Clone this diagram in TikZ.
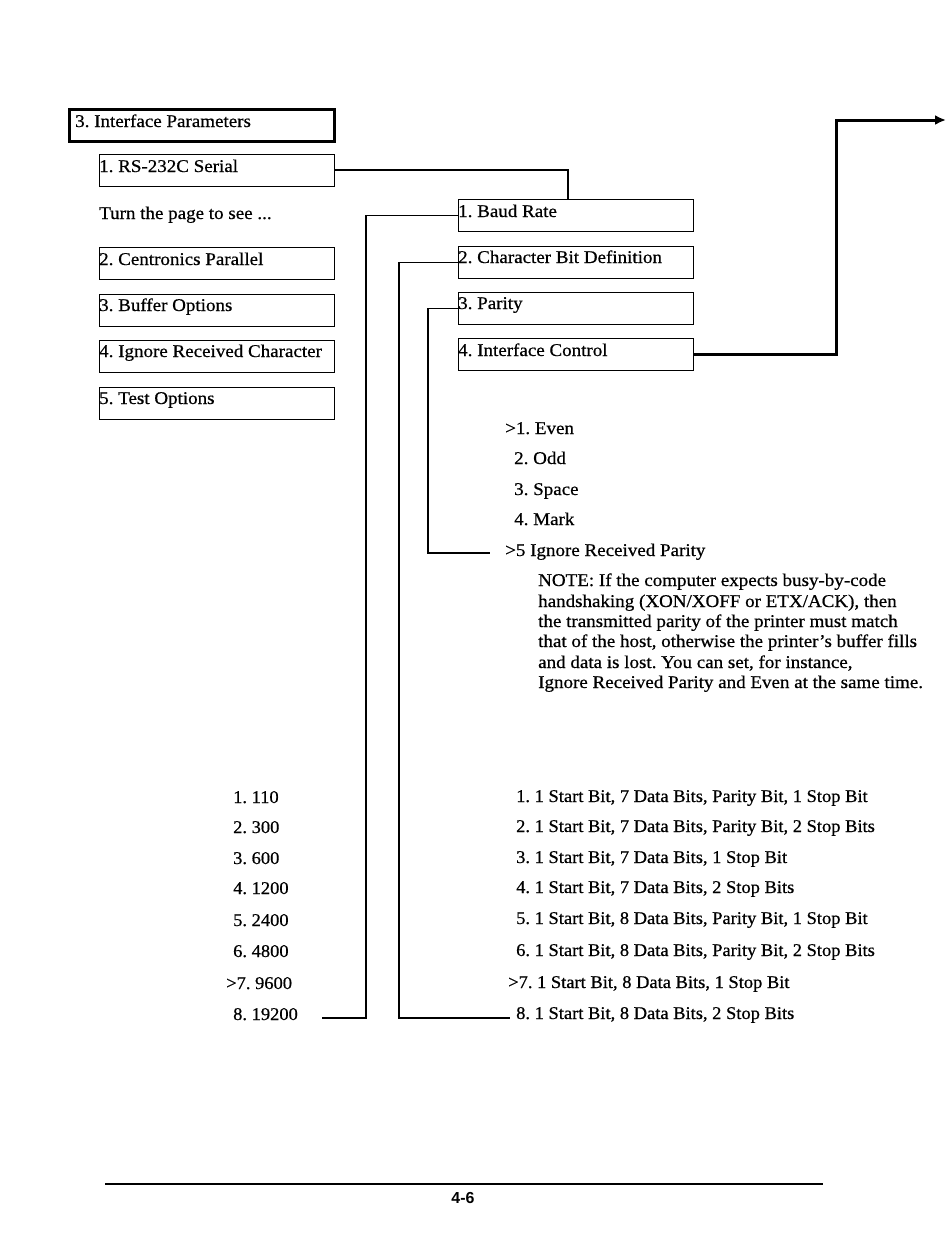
\documentclass[tikz,border=0pt]{standalone}
\usepackage{fontspec}
\setmainfont{Liberation Serif}[FakeStretch=1.06,FakeBold=0.6]
\newfontfamily\listfont{Liberation Serif}[FakeStretch=1.03,FakeBold=0.6]
\newfontfamily\pnfont{Liberation Sans}
\usetikzlibrary{arrows.meta}
\begin{document}
\begin{tikzpicture}[x=1bp,y=-1bp,
  box/.style={draw, line width=1.2bp, minimum width=235bp, minimum height=32bp, anchor=north west, inner sep=0pt},
  bigbox/.style={draw, line width=3bp, minimum width=265bp, minimum height=32bp, anchor=north west, inner sep=0pt},
  txt/.style={anchor=base west, inner sep=0pt, font=\fontsize{18}{20}\selectfont\frenchspacing},
  ltxt/.style={txt, font=\listfont\fontsize{18}{20}\selectfont\frenchspacing},
  conn/.style={line width=1.3bp},
  thick conn/.style={line width=3bp, -{Latex[length=11bp,width=10bp]}}
]
\useasboundingbox (0,0) rectangle (950,1255);

% left column boxes
\node[bigbox] (ip) at (68,108) {};
\node[txt] (iptxt) at (75,127) {3. Interface Parameters};
\node[box] (rs) at (99,154) {};
\node[txt] (rstxt) at (99,172) {1. RS-232C Serial};
\node[txt] (turn) at (99,219) {Turn the page to see ...};
\node[box] (cp) at (99,247) {};
\node[txt] (cptxt) at (99,265) {2. Centronics Parallel};
\node[box] (bo) at (99,294) {};
\node[txt] (botxt) at (99,311) {3. Buffer Options};
\node[box] (irc) at (99,340) {};
\node[txt] (irctxt) at (99,357) {4. Ignore Received Character};
\node[box] (to) at (99,387) {};
\node[txt] (totxt) at (99,404) {5. Test Options};

% right column boxes
\node[box] (baud) at (458,199) {};
\node[txt] (baudtxt) at (458,217) {1. Baud Rate};
\node[box] (cbd) at (458,246) {};
\node[txt] (cbdtxt) at (458,263) {2. Character Bit Definition};
\node[box] (par) at (458,292) {};
\node[txt] (partxt) at (458,309) {3. Parity};
\node[box] (ic) at (458,338) {};
\node[txt] (ictxt) at (458,356) {4. Interface Control};

% parity options
\node[txt] (p1) at (505,434) {>1. Even};
\node[txt] (p2) at (514,464) {2. Odd};
\node[txt] (p3) at (514,495) {3. Space};
\node[txt] (p4) at (514,525) {4. Mark};
\node[txt] (p5) at (505,556) {>5 Ignore Received Parity};
\node[txt] (n1) at (538,586) {NOTE: If the computer expects busy-by-code};
\node[txt] (n2) at (538,607) {handshaking (XON/XOFF or ETX/ACK), then};
\node[txt] (n3) at (538,627) {the transmitted parity of the printer must match};
\node[txt] (n4) at (538,647) {that of the host, otherwise the printer's buffer fills};
\node[txt] (n5) at (538,668) {and data is lost. You can set, for instance,};
\node[txt] (n6) at (538,688) {Ignore Received Parity and Even at the same time.};

% baud rates
\node[ltxt] (b1) at (233,803) {1. 110};
\node[ltxt] (b2) at (233,833) {2. 300};
\node[ltxt] (b3) at (233,864) {3. 600};
\node[ltxt] (b4) at (233,894) {4. 1200};
\node[ltxt] (b5) at (233,926) {5. 2400};
\node[ltxt] (b6) at (233,957) {6. 4800};
\node[ltxt] (b7) at (226,989) {>7. 9600};
\node[ltxt] (b8) at (233,1020) {8. 19200};

% character bit definitions
\node[ltxt] (c1) at (516,802) {1. 1 Start Bit, 7 Data Bits, Parity Bit, 1 Stop Bit};
\node[ltxt] (c2) at (516,832) {2. 1 Start Bit, 7 Data Bits, Parity Bit, 2 Stop Bits};
\node[ltxt] (c3) at (516,863) {3. 1 Start Bit, 7 Data Bits, 1 Stop Bit};
\node[ltxt] (c4) at (516,893) {4. 1 Start Bit, 7 Data Bits, 2 Stop Bits};
\node[ltxt] (c5) at (516,924) {5. 1 Start Bit, 8 Data Bits, Parity Bit, 1 Stop Bit};
\node[ltxt] (c6) at (516,956) {6. 1 Start Bit, 8 Data Bits, Parity Bit, 2 Stop Bits};
\node[ltxt] (c7) at (508,988) {>7. 1 Start Bit, 8 Data Bits, 1 Stop Bit};
\node[ltxt] (c8) at (516,1019) {8. 1 Start Bit, 8 Data Bits, 2 Stop Bits};

% connector endpoints
\coordinate (j1) at (568,170);
\coordinate (bcorner) at (366,1018);
\coordinate (bend) at (322,1018);
\coordinate (ccorner) at (399,1018);
\coordinate (cend) at (510,1018);
\coordinate (pcorner) at (428,553);
\coordinate (pend) at (490,553);
\coordinate (acorner) at (836,120);
\coordinate (aend) at (946,120);

% connectors
\draw[conn] (rs.east |- j1) -- (j1) -- (j1 |- baud.north);
\draw[conn] (baud.west) -| (bcorner) -- (bend);
\draw[conn] (cbd.west) -| (ccorner) -- (cend);
\draw[conn] (par.west) -| (pcorner) -- (pend);
\draw[thick conn] (ic.east) -| (acorner) -- (aend);

% footer
\coordinate (fl) at (105,1184);
\coordinate (fr) at (823,1184);
\draw[line width=1.5bp] (fl) -- (fr);
\node[inner sep=0pt, font=\pnfont\bfseries\fontsize{16}{18}\selectfont] (pg) at (463,1198) {4-6};
\end{tikzpicture}
\end{document}
